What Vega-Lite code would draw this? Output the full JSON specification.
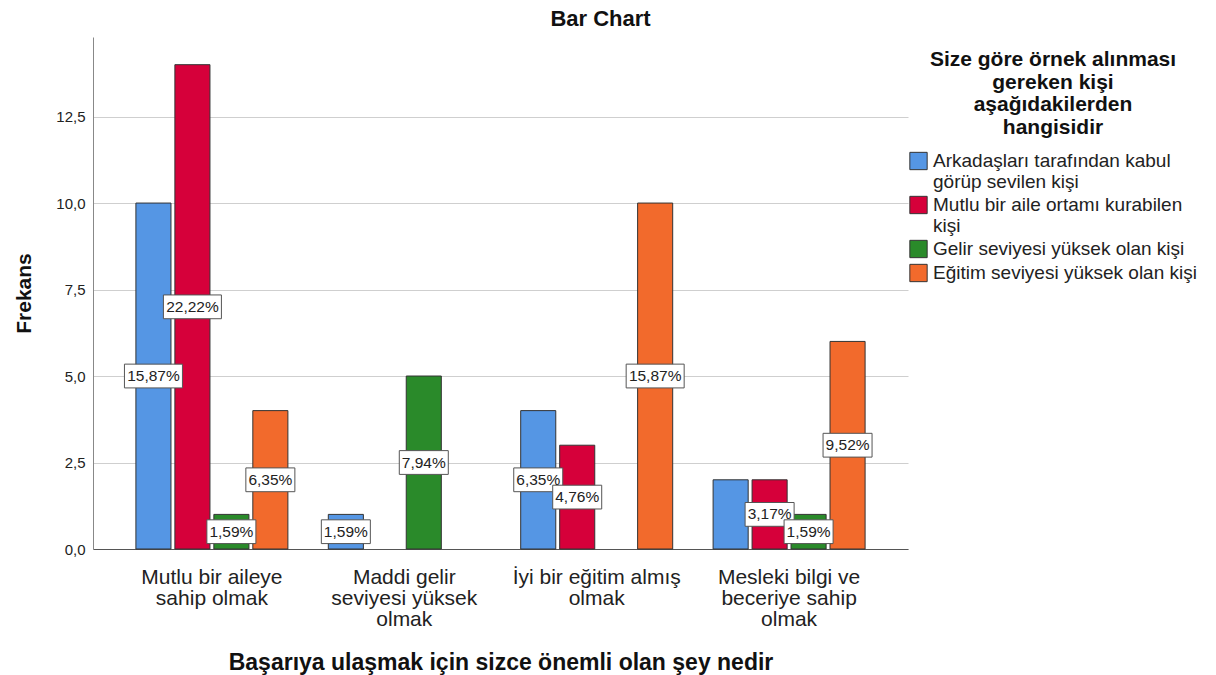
{
  "$schema": "https://vega.github.io/schema/vega-lite/v6.json",
  "width": 815,
  "height": 512,
  "autosize": {"type": "none"},
  "padding": {"left": 93, "top": 37, "right": 308, "bottom": 126},
  "config": {"font": "Liberation Sans", "view": {"stroke": null}},
  "title": {"text": "Bar Chart", "fontSize": 22, "fontWeight": "bold", "color": "#111", "anchor": "middle", "frame": "group", "dx": 100, "offset": 6},
  "data": {"values": [
    {"Basari": "Mutlu bir aileye sahip olmak", "Kisi": "Arkadaşları tarafından kabul görüp sevilen kişi", "Frekans": 10, "Etiket": "15,87%"},
    {"Basari": "Mutlu bir aileye sahip olmak", "Kisi": "Mutlu bir aile ortamı kurabilen kişi", "Frekans": 14, "Etiket": "22,22%"},
    {"Basari": "Mutlu bir aileye sahip olmak", "Kisi": "Gelir seviyesi yüksek olan kişi", "Frekans": 1, "Etiket": "1,59%"},
    {"Basari": "Mutlu bir aileye sahip olmak", "Kisi": "Eğitim seviyesi yüksek olan kişi", "Frekans": 4, "Etiket": "6,35%"},
    {"Basari": "Maddi gelir seviyesi yüksek olmak", "Kisi": "Arkadaşları tarafından kabul görüp sevilen kişi", "Frekans": 1, "Etiket": "1,59%"},
    {"Basari": "Maddi gelir seviyesi yüksek olmak", "Kisi": "Gelir seviyesi yüksek olan kişi", "Frekans": 5, "Etiket": "7,94%"},
    {"Basari": "İyi bir eğitim almış olmak", "Kisi": "Arkadaşları tarafından kabul görüp sevilen kişi", "Frekans": 4, "Etiket": "6,35%"},
    {"Basari": "İyi bir eğitim almış olmak", "Kisi": "Mutlu bir aile ortamı kurabilen kişi", "Frekans": 3, "Etiket": "4,76%"},
    {"Basari": "İyi bir eğitim almış olmak", "Kisi": "Eğitim seviyesi yüksek olan kişi", "Frekans": 10, "Etiket": "15,87%"},
    {"Basari": "Mesleki bilgi ve beceriye sahip olmak", "Kisi": "Arkadaşları tarafından kabul görüp sevilen kişi", "Frekans": 2, "Etiket": ""},
    {"Basari": "Mesleki bilgi ve beceriye sahip olmak", "Kisi": "Mutlu bir aile ortamı kurabilen kişi", "Frekans": 2, "Etiket": "3,17%"},
    {"Basari": "Mesleki bilgi ve beceriye sahip olmak", "Kisi": "Gelir seviyesi yüksek olan kişi", "Frekans": 1, "Etiket": "1,59%"},
    {"Basari": "Mesleki bilgi ve beceriye sahip olmak", "Kisi": "Eğitim seviyesi yüksek olan kişi", "Frekans": 6, "Etiket": "9,52%"}
  ]},
  "encoding": {
    "x": {
      "field": "Basari", "type": "nominal",
      "sort": ["Mutlu bir aileye sahip olmak", "Maddi gelir seviyesi yüksek olmak", "İyi bir eğitim almış olmak", "Mesleki bilgi ve beceriye sahip olmak"],
      "scale": {"paddingInner": 0.21, "paddingOuter": 0.223},
      "axis": {
        "title": "Başarıya ulaşmak için sizce önemli olan şey nedir",
        "labelAngle": 0, "ticks": false, "domainColor": "#555", "domainWidth": 1,
        "labelFontSize": 21, "labelColor": "#222", "labelPadding": 17, "labelLineHeight": 21, "labelBaseline": "top", "labelLimit": 300,
        "labelExpr": "datum.label == 'Mutlu bir aileye sahip olmak' ? ['Mutlu bir aileye','sahip olmak'] : datum.label == 'Maddi gelir seviyesi yüksek olmak' ? ['Maddi gelir','seviyesi yüksek','olmak'] : datum.label == 'İyi bir eğitim almış olmak' ? ['İyi bir eğitim almış','olmak'] : ['Mesleki bilgi ve','beceriye sahip','olmak']",
        "titleFontSize": 23, "titleFontWeight": "bold", "titleColor": "#111", "titlePadding": 22
      }
    },
    "xOffset": {
      "field": "Kisi", "type": "nominal",
      "scale": {"domain": ["Arkadaşları tarafından kabul görüp sevilen kişi", "Mutlu bir aile ortamı kurabilen kişi", "Gelir seviyesi yüksek olan kişi", "Eğitim seviyesi yüksek olan kişi"], "paddingInner": 0.1, "paddingOuter": 0}
    }
  },
  "layer": [
    {
      "mark": {"type": "bar", "stroke": "#333", "strokeWidth": 1, "opacity": 1},
      "encoding": {
        "y": {
          "field": "Frekans", "type": "quantitative",
          "scale": {"domain": [0, 14.8], "nice": false, "zero": true},
          "axis": {
            "title": "Frekans", "values": [0, 2.5, 5, 7.5, 10, 12.5],
            "labelExpr": "replace(format(datum.value, '.1f'), '.', ',')",
            "grid": true, "gridColor": "#cfcfcf", "gridWidth": 1, "ticks": false,
            "domainColor": "#888", "domainWidth": 1,
            "labelFontSize": 15, "labelColor": "#222", "labelPadding": 8,
            "titleFontSize": 21, "titleFontWeight": "bold", "titleColor": "#111", "titlePadding": 21
          }
        },
        "color": {
          "field": "Kisi", "type": "nominal",
          "scale": {
            "domain": ["Arkadaşları tarafından kabul görüp sevilen kişi", "Mutlu bir aile ortamı kurabilen kişi", "Gelir seviyesi yüksek olan kişi", "Eğitim seviyesi yüksek olan kişi"],
            "range": ["#5596E4", "#D6003A", "#2A8A2A", "#F26A2C"]
          },
          "legend": {
            "title": ["Size göre örnek alınması", "gereken kişi", "aşağıdakilerden", "hangisidir"],
            "orient": "none", "legendX": 816, "legendY": 12, "padding": 0,
            "titleFontSize": 21, "titleFontWeight": "bold", "titleColor": "#111",
            "titleAlign": "center", "titleAnchor": "middle", "titleLimit": 400, "titleLineHeight": 22.5, "titlePadding": 14,
            "labelFontSize": 19, "labelColor": "#222", "labelLimit": 320, "labelLineHeight": 20, "labelOffset": 5,
            "labelExpr": "split(replace(replace(datum.label, 'kabul ', 'kabul|'), 'kurabilen ', 'kurabilen|'), '|')",
            "symbolType": "square", "symbolSize": 300, "symbolStrokeColor": "#333", "symbolStrokeWidth": 1, "symbolOpacity": 1,
            "rowPadding": 1
          }
        }
      }
    },
    {
      "transform": [{"filter": "datum.Etiket != ''"}, {"calculate": "datum.Frekans / 2", "as": "Orta"}],
      "mark": {"type": "point", "filled": true, "fill": "white", "stroke": "#555", "strokeWidth": 1, "opacity": 1, "size": 3364},
      "encoding": {
        "y": {"field": "Orta", "type": "quantitative", "title": "Frekans"},
        "shape": {
          "condition": {"test": "length(datum.Etiket) > 5", "value": "M-1,-0.41H1V0.41H-1Z"},
          "value": "M-0.845,-0.41H0.845V0.41H-0.845Z"
        }
      }
    },
    {
      "transform": [{"filter": "datum.Etiket != ''"}, {"calculate": "datum.Frekans / 2", "as": "Orta"}],
      "mark": {"type": "text", "fontSize": 15.5, "color": "#222", "baseline": "middle", "align": "center"},
      "encoding": {
        "y": {"field": "Orta", "type": "quantitative", "title": "Frekans"},
        "text": {"field": "Etiket"}
      }
    }
  ]
}
